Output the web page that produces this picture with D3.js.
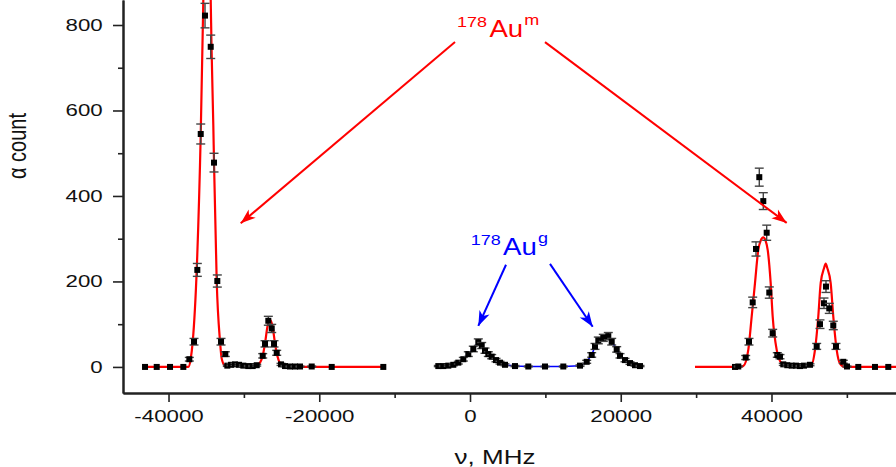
<!DOCTYPE html>
<html>
<head>
<meta charset="utf-8">
<script src="https://cdn.jsdelivr.net/npm/d3@7"></script>
<style>
  body { margin: 0; background: #fff; }
  text { font-family: "Liberation Sans", Arial, sans-serif; }
</style>
</head>
<body>
<svg id="chart" width="896" height="467"></svg>
<script>
// measured points [frequency MHz, alpha count]
var auMLeft = [
    [-43118, 0], [-41566, 0], [-39801, 0], [-38036, 0], [-37240, 18], [-36617, 59],
    [-36179, 227], [-35727, 545], [-35158, 822], [-34402, 749], [-33964, 478],
    [-33526, 201], [-33035, 59], [-32464, 30], [-32199, 3], [-31708, 5], [-31177, 6],
    [-30647, 5], [-30076, 3], [-29413, 2], [-28829, 2], [-28298, 4], [-27502, 26],
    [-27197, 54], [-26759, 108], [-26308, 90], [-26003, 54], [-25645, 33], [-25074, 6],
    [-24544, 2], [-23880, 1], [-23217, 1], [-22554, 1], [-21002, 1], [-18348, 0], [-11503, 0]
];
var auG = [
    [-4206, 2], [-3542, 2], [-2879, 3], [-2216, 5], [-1553, 10], [-889, 18], [-226, 30],
    [438, 42], [1101, 58], [1553, 50], [1990, 38], [2428, 30], [2879, 24], [3449, 16],
    [3980, 10], [4643, 5], [5970, 2], [7735, 1], [9950, 1], [12378, 1], [14594, 3],
    [15483, 12], [16146, 28], [16584, 48], [17022, 62], [17685, 68], [18348, 72],
    [18800, 59], [19463, 41], [19901, 26], [20564, 16], [21227, 9], [21891, 4], [22554, 2]
];
var auMRight = [
    [35158, 0], [35596, 1], [36577, 22], [37015, 59], [37506, 151], [37944, 276],
    [38382, 444], [38912, 388], [39363, 314], [39708, 174], [40159, 79], [40770, 28],
    [41128, 24], [41566, 6], [42096, 4], [42680, 3], [43250, 3], [43781, 2], [44312, 3],
    [45108, 5], [45997, 48], [46435, 100], [46965, 149], [47231, 188], [47668, 137],
    [48199, 97], [48557, 48], [49526, 12], [50017, 1], [51517, 0], [53731, 0], [55496, 0]
];

// fitted curves
var fitLeft = [
    [-43118, 0], [-37373, 0], [-37055, 19], [-36790, 59], [-36259, 227], [-35727, 545],
    [-35423, 820], [-35383, 860], [-34892, 1150], [-34402, 860], [-34296, 750],
    [-34057, 565], [-33964, 478], [-33606, 200], [-33168, 60], [-32942, 19], [-32504, 3],
    [-30514, 4], [-29187, 3], [-28259, 3], [-27861, 10], [-27502, 26], [-27197, 55],
    [-26865, 95], [-26534, 110], [-26202, 95], [-25871, 55], [-25566, 26], [-25208, 8],
    [-24942, 2], [-24411, 0], [-11503, 0]
];
var fitRight = [
    [29851, 0], [35821, 0], [36259, 2], [36922, 40], [37373, 118], [37811, 196],
    [38249, 274], [38580, 296], [38912, 303], [39200, 296], [39496, 274], [39894, 196],
    [40159, 118], [40690, 40], [41353, 8], [42017, 2], [43781, 2], [45240, 3], [45771, 40],
    [46209, 118], [46527, 196], [46990, 232], [47191, 242], [47390, 232], [47854, 196],
    [48199, 118], [48650, 40], [49087, 8], [49751, 0], [57048, 0]
];

var xTicks = [-40000, -20000, 0, 20000, 40000];
var xMinor = [-30000, -10000, 10000, 30000, 50000];
var yTicks = [0, 200, 400, 600, 800];
var yMinor = [100, 300, 500, 700];

var svg = d3.select("#chart");
var left = 123, right = 896, bottom = 393;
var stretch = 1.35;

var x = d3.scaleLinear().domain([-46040, 56520]).range([left, right]);
var y = d3.scaleLinear().domain([-61, 858.5]).range([bottom, 0]);

var defs = svg.append("defs");
defs.append("clipPath").attr("id", "plotclip")
    .append("rect").attr("x", left).attr("y", 0)
    .attr("width", right - left).attr("height", bottom);

[["red", "#ff0000"], ["blue", "#0000ff"]].forEach(function(c) {
    defs.append("marker")
        .attr("id", "head-" + c[0])
        .attr("viewBox", "-16 -7 18 14")
        .attr("refX", 0).attr("refY", 0)
        .attr("markerWidth", 18).attr("markerHeight", 14)
        .attr("markerUnits", "userSpaceOnUse")
        .attr("orient", "auto")
        .append("path")
        .attr("d", "M0,0L-15,-5.5L-11,0L-15,5.5Z")
        .attr("fill", c[1]);
});

var plot = svg.append("g").attr("clip-path", "url(#plotclip)");

var smooth = d3.line()
    .x(function(d) { return x(d[0]); })
    .y(function(d) { return y(d[1]); })
    .curve(d3.curveMonotoneX);
var straight = d3.line()
    .x(function(d) { return x(d[0]); })
    .y(function(d) { return y(d[1]); });

plot.append("path").datum(fitLeft).attr("d", smooth)
    .attr("fill", "none").attr("stroke", "#ff0000").attr("stroke-width", 2.2);
plot.append("path").datum(fitRight).attr("d", smooth)
    .attr("fill", "none").attr("stroke", "#ff0000").attr("stroke-width", 2.2);
plot.append("path").datum(auG).attr("d", straight)
    .attr("fill", "none").attr("stroke", "#0000ff").attr("stroke-width", 1.5);

// points with Poisson error bars
var allPoints = auMLeft.concat(auG, auMRight);
var pts = plot.selectAll("g.pt").data(allPoints).enter().append("g").attr("class", "pt");
pts.filter(function(d) { return d[1] > 0; }).each(function(d) {
    var g = d3.select(this), err = Math.sqrt(d[1]);
    var cx = x(d[0]), y0 = y(d[1] - err), y1 = y(d[1] + err);
    g.append("line").attr("x1", cx).attr("x2", cx).attr("y1", y0).attr("y2", y1);
    g.append("line").attr("x1", cx - 4.5).attr("x2", cx + 4.5).attr("y1", y0).attr("y2", y0);
    g.append("line").attr("x1", cx - 4.5).attr("x2", cx + 4.5).attr("y1", y1).attr("y2", y1);
    g.selectAll("line").attr("stroke", "#444").attr("stroke-width", 1.4);
});
pts.append("rect")
    .attr("x", function(d) { return x(d[0]) - 3; })
    .attr("y", function(d) { return y(d[1]) - 3; })
    .attr("width", 6).attr("height", 6)
    .attr("fill", "#000");

// axes
var gx = svg.append("g").attr("transform", "translate(0," + bottom + ")")
    .call(d3.axisBottom(x).tickValues(xTicks).tickSize(9).tickSizeOuter(0)
        .tickFormat(function(d) { return String(d); }));
svg.append("g").attr("transform", "translate(0," + bottom + ")")
    .call(d3.axisBottom(x).tickValues(xMinor).tickSize(5).tickSizeOuter(0).tickFormat(""));
var gy = svg.append("g").attr("transform", "translate(" + left + ",0)")
    .call(d3.axisLeft(y).tickValues(yTicks).tickSize(10).tickSizeOuter(0));
svg.append("g").attr("transform", "translate(" + left + ",0)")
    .call(d3.axisLeft(y).tickValues(yMinor).tickSize(5).tickSizeOuter(0).tickFormat(""));

svg.selectAll(".domain").attr("stroke", "#222").attr("stroke-width", 2);
svg.selectAll(".tick line").attr("stroke", "#222").attr("stroke-width", 1.6);
gx.selectAll(".tick text").attr("y", 17)
    .attr("transform", "scale(" + stretch + ",1)")
    .attr("font-size", 16.5).attr("fill", "#111");
gy.selectAll(".tick text").attr("x", -20.3 / stretch)
    .attr("transform", "scale(" + stretch + ",1)")
    .attr("font-size", 16.5).attr("fill", "#111");
svg.selectAll(".tick text").style("font-family", "'Liberation Sans', Arial, sans-serif");

svg.append("text")
    .attr("transform", "translate(26,146) scale(1.3,1) rotate(-90)")
    .attr("text-anchor", "middle")
    .attr("font-size", 20).attr("fill", "#111")
    .text("α count");
svg.append("text")
    .attr("transform", "translate(495,464) scale(1.3,1)")
    .attr("text-anchor", "middle")
    .attr("font-size", 20).attr("fill", "#111")
    .text("ν, MHz");

// isotope labels and arrows
function isotope(fx, fc, state, color) {
    var t = svg.append("text")
        .attr("transform", "translate(" + x(fx) + "," + y(fc) + ") scale(1.2,1)")
        .attr("fill", color);
    t.append("tspan").attr("font-size", 15).attr("dy", -10).text("178");
    t.append("tspan").attr("font-size", 23).attr("dy", 10).attr("dx", 2).text("Au");
    t.append("tspan").attr("font-size", 15).attr("dy", -12).attr("dx", 1).text(state);
}
isotope(-1725, 772, "m", "#ff0000");
isotope(93, 262, "g", "#0000ff");

function arrow(f0, c0, f1, c1, name, color) {
    svg.append("line")
        .attr("x1", x(f0)).attr("y1", y(c0))
        .attr("x2", x(f1)).attr("y2", y(c1))
        .attr("stroke", color).attr("stroke-width", 2)
        .attr("marker-end", "url(#head-" + name + ")");
}
arrow(-1990, 760, -30422, 336, "red", "#ff0000");
arrow(9950, 760, 42017, 337, "red", "#ff0000");
arrow(4776, 239, 1101, 96, "blue", "#0000ff");
arrow(10614, 241, 16279, 94, "blue", "#0000ff");
</script>
</body>
</html>
